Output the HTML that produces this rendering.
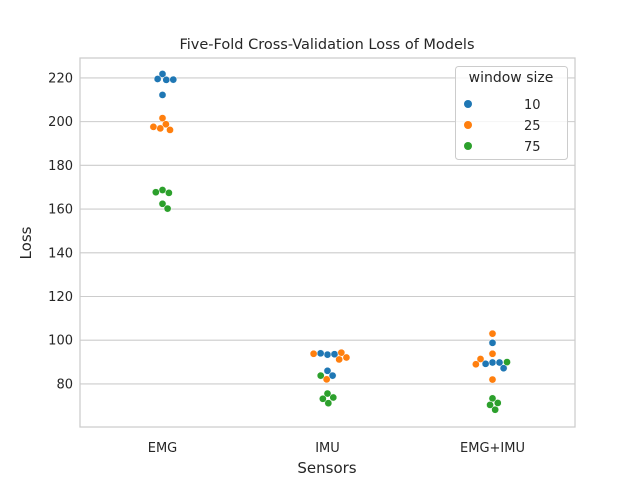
<!DOCTYPE html>
<html><head><meta charset="utf-8"><style>
body{margin:0;background:#fff;font-family:"Liberation Sans","DejaVu Sans",sans-serif}
svg text{font-family:"DejaVu Sans","Liberation Sans",sans-serif;fill:#262626}
</style></head><body>
<svg id="chart" width="640" height="480">
<rect width="640" height="480" fill="#fff"/>
<g id="grid"></g>
<rect x="80" y="58" width="495" height="369" fill="none" stroke="#cccccc" stroke-width="1.25"/>
<g id="ticks"></g>
<g id="points"></g>
<text x="327" y="49" font-size="14.5" text-anchor="middle">Five-Fold Cross-Validation Loss of Models</text>
<text x="327" y="473" font-size="15" text-anchor="middle">Sensors</text>
<text x="31" y="243" font-size="15" text-anchor="middle" transform="rotate(-90 31 243)">Loss</text>
<g>
<rect x="455.5" y="66.5" width="112" height="93" rx="3" fill="#fff" fill-opacity="0.8" stroke="#cccccc"/>
<text x="511" y="82" font-size="14" text-anchor="middle">window size</text>
<g id="legend"></g>
</g>
</svg>
<script>
const categories=["EMG","IMU","EMG+IMU"];
const hues=["10","25","75"];
const colors=["#1f77b4","#ff7f0e","#2ca02c"];
const yTicks=[80,100,120,140,160,180,200,220];
const emg10=[221.8,219.1,219.5,219.2,212.2];
const emg25=[201.6,198.8,196.9,196.2,197.6];
const emg75=[168.7,167.4,167.7,162.4,160.2];
const imu10=[93.4,93.6,94.0,86.0,83.8];
const imu25=[93.8,94.3,92.1,91.2,82.1];
const imu75=[83.8,75.6,73.8,73.2,71.2];
const both10=[98.8,89.8,89.8,89.2,87.2];
const both25=[103.0,93.8,91.4,89.0,82.0];
const both75=[90.0,73.4,71.3,70.4,68.2];
const series=[[emg10,emg25,emg75],[imu10,imu25,imu75],[both10,both25,both75]];
const NS="http://www.w3.org/2000/svg";
const yMin=60.3,yMax=229.1,plotTop=58,plotBot=427;
const ys=v=>plotBot-(v-yMin)/(yMax-yMin)*(plotBot-plotTop);
const xs=i=>80+495*(i+0.5)/3;
function mk(t,a,p){const e=document.createElementNS(NS,t);for(const k in a)e.setAttribute(k,a[k]);p.appendChild(e);return e;}
const grid=document.getElementById('grid'),ticks=document.getElementById('ticks'),pts=document.getElementById('points'),leg=document.getElementById('legend');
yTicks.forEach(v=>{
 const l=mk('line',{x1:80,x2:575,y1:ys(v),y2:ys(v),stroke:'#cccccc','stroke-width':1.1},grid);
 
 
 const t=mk('text',{x:73,y:ys(v)+4.5,'font-size':13,'text-anchor':'end'},ticks);
 t.textContent=v;
 
 
});
categories.forEach((c,i)=>{
 const t=mk('text',{x:xs(i),y:452,'font-size':13,'text-anchor':'middle'},ticks);
 t.textContent=c;
 
 
 const all=[];
 series[i].forEach((arr,h)=>arr.forEach(v=>all.push({v,h})));
 const d=7,placed=[];
 all.forEach(p=>{
  const y=ys(p.v);
  const cands=[0];
  placed.forEach(q=>{const dy=y-q.y;if(Math.abs(dy)<d){const w=Math.sqrt(d*d-dy*dy)+0.01;cands.push(q.o+w,q.o-w);}});
  cands.sort((a,b)=>Math.abs(a)-Math.abs(b));
  let best=0;
  for(const o of cands){
   let ok=true;
   for(const q of placed){const dx=o-q.o,dy=y-q.y;if(dx*dx+dy*dy<d*d-0.01){ok=false;break;}}
   if(ok){best=o;break;}
  }
  placed.push({o:best,y,h:p.h});
 });
 placed.forEach(p=>{
  const c2=mk('circle',{cx:xs(i)+p.o,cy:p.y,r:3.6,fill:colors[p.h],stroke:'#fff','stroke-width':0.5},pts);
  
  
 });
});
hues.forEach((h,k)=>{
 const y=104+k*21;
 const c=mk('circle',{cx:468,cy:y,r:4,fill:colors[k]},leg);
 
 
 const t=mk('text',{x:524,y:y+5,'font-size':13},leg);
 t.textContent=h;
 
 
});
</script>
</body></html>
